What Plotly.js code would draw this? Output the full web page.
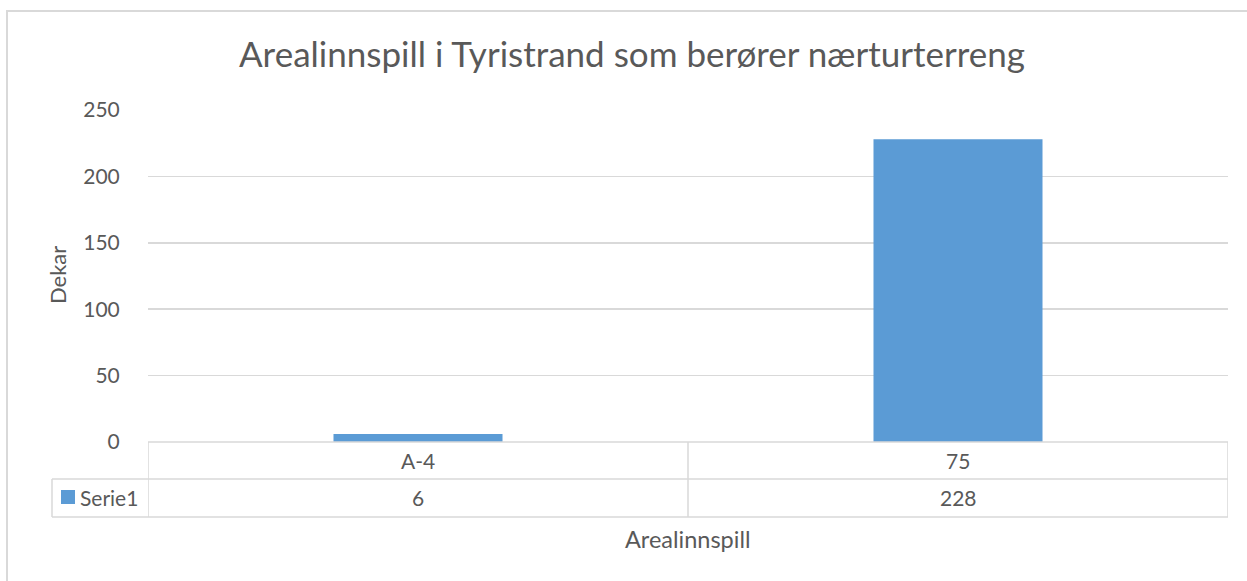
<!DOCTYPE html>
<html><head><meta charset="utf-8">
<script src="https://cdn.plot.ly/plotly-3.0.1.min.js"></script>
<style>body{margin:0;background:#fff}#chart{width:1247px;height:581px}</style>
</head><body><div id="chart"></div>
<script>
const categories = ["A-4", "75"];
const values = [6, 228];
const seriesName = "Serie1";
const chartTitle = "Arealinnspill i Tyristrand som berører nærturterreng";
const yTitle = "Dekar";
const xTitle = "Arealinnspill";
const yTicks = [0, 50, 100, 150, 200, 250];

const FONT = "Lato, 'Open Sans', sans-serif";
const TXT = "#595959";
const GRID = "#d9d9d9";
const BAR = "#5b9bd5";

const plotH = 332, plotW = 1080, mL = 148, mT = 110;
const py = px => (mT + plotH - px) / plotH;   // pixel y -> paper y
const pxX = px => (px - mL) / plotW;          // pixel x -> paper x

const annotations = [];
categories.forEach((c, i) => {
  annotations.push({x: i, xref: 'x', y: py(460), yref: 'paper', text: c, showarrow: false,
    font: {family: FONT, size: 21, color: TXT}, xanchor: 'center', yanchor: 'middle'});
  annotations.push({x: i, xref: 'x', y: py(498), yref: 'paper', text: String(values[i]), showarrow: false,
    font: {family: FONT, size: 21, color: TXT}, xanchor: 'center', yanchor: 'middle'});
});
annotations.push({x: pxX(78), xref: 'paper', y: py(498), yref: 'paper', text: seriesName, showarrow: false,
  font: {family: FONT, size: 21, color: TXT}, xanchor: 'left', yanchor: 'middle'});
annotations.push({x: pxX(57), xref: 'paper', y: py(275), yref: 'paper', text: yTitle, showarrow: false,
  textangle: -90, font: {family: FONT, size: 22, color: TXT}, xanchor: 'center', yanchor: 'middle'});
annotations.push({x: pxX(688), xref: 'paper', y: py(539), yref: 'paper', text: xTitle, showarrow: false,
  font: {family: FONT, size: 23.5, color: TXT}, xanchor: 'center', yanchor: 'middle'});

const line = {color: GRID, width: 1.5};
const shapes = [
  // outer chart border
  {type: 'rect', xref: 'paper', yref: 'paper', x0: pxX(7), x1: pxX(1260), y0: py(600), y1: py(11), line: {color: GRID, width: 2}},
  // data table
  {type: 'line', xref: 'x', yref: 'paper', x0: -0.5, x1: 1.5, y0: py(442), y1: py(442), line},
  {type: 'line', xref: 'paper', yref: 'paper', x0: pxX(52), x1: 1, y0: py(479), y1: py(479), line},
  {type: 'line', xref: 'paper', yref: 'paper', x0: pxX(52), x1: 1, y0: py(517), y1: py(517), line},
  {type: 'line', xref: 'x', yref: 'paper', x0: -0.5, x1: -0.5, y0: py(442), y1: py(517), line},
  {type: 'line', xref: 'x', yref: 'paper', x0: 0.5, x1: 0.5, y0: py(442), y1: py(517), line},
  {type: 'line', xref: 'x', yref: 'paper', x0: 1.5, x1: 1.5, y0: py(442), y1: py(517), line},
  {type: 'line', xref: 'paper', yref: 'paper', x0: pxX(52), x1: pxX(52), y0: py(479), y1: py(517), line},
  // legend key
  {type: 'rect', xref: 'paper', yref: 'paper', x0: pxX(61), x1: pxX(75), y0: py(504), y1: py(490), fillcolor: BAR, line: {width: 0}}
];

const data = [{
  type: 'bar', x: categories, y: values, name: seriesName,
  marker: {color: BAR}, hoverinfo: 'x+y'
}];

const layout = {
  width: 1247, height: 581,
  margin: {l: mL, r: 1247 - mL - plotW, t: mT, b: 581 - mT - plotH, pad: 0},
  paper_bgcolor: '#fff', plot_bgcolor: '#fff',
  showlegend: false,
  bargap: 0.687,
  title: {text: chartTitle, x: 632 / 1247, xref: 'container', xanchor: 'center',
    y: 1 - 55 / 581, yref: 'container', yanchor: 'middle',
    font: {family: FONT, size: 35, color: TXT}},
  xaxis: {type: 'category', range: [-0.5, 1.5], showticklabels: false, showgrid: false,
    zeroline: false, showline: false, ticks: '', fixedrange: true},
  yaxis: {range: [0, 250], tickvals: yTicks, ticktext: yTicks.map(String), showgrid: true, gridcolor: GRID, gridwidth: 1.5,
    zeroline: false, showline: false, ticks: 'outside', ticklen: 23, tickcolor: 'rgba(0,0,0,0)',
    tickfont: {family: FONT, size: 21, color: TXT}, fixedrange: true},
  annotations, shapes
};

Plotly.newPlot('chart', data, layout, {displayModeBar: false, staticPlot: true});
</script></body></html>
